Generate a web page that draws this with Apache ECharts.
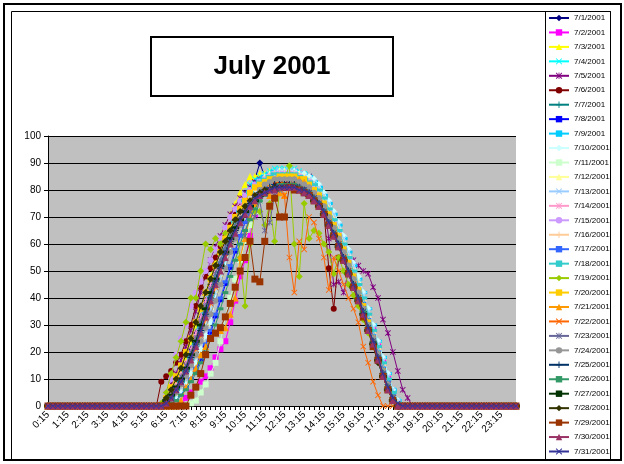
<!DOCTYPE html>
<html>
<head>
<meta charset="utf-8">
<script src="https://cdn.jsdelivr.net/npm/echarts@6/dist/echarts.min.js"></script>
<style>
  html, body { margin: 0; padding: 0; background: #fff; }
  #chart { width: 624px; height: 464px; }
</style>
</head>
<body>
<div id="chart"></div>
<script>
// Quarter-hour time stamps, 0:15 through midnight
const times = [
  '0:15','0:30','0:45','1:00','1:15','1:30','1:45','2:00','2:15','2:30','2:45','3:00',
  '3:15','3:30','3:45','4:00','4:15','4:30','4:45','5:00','5:15','5:30','5:45','6:00',
  '6:15','6:30','6:45','7:00','7:15','7:30','7:45','8:00','8:15','8:30','8:45','9:00',
  '9:15','9:30','9:45','10:00','10:15','10:30','10:45','11:00','11:15','11:30','11:45','12:00',
  '12:15','12:30','12:45','13:00','13:15','13:30','13:45','14:00','14:15','14:30','14:45','15:00',
  '15:15','15:30','15:45','16:00','16:15','16:30','16:45','17:00','17:15','17:30','17:45','18:00',
  '18:15','18:30','18:45','19:00','19:15','19:30','19:45','20:00','20:15','20:30','20:45','21:00',
  '21:15','21:30','21:45','22:00','22:15','22:30','22:45','23:00','23:15','23:30','23:45','0:00'
];

const dayNames = [
  '7/1/2001','7/2/2001','7/3/2001','7/4/2001','7/5/2001','7/6/2001','7/7/2001','7/8/2001',
  '7/9/2001','7/10/2001','7/11/2001','7/12/2001','7/13/2001','7/14/2001','7/15/2001','7/16/2001',
  '7/17/2001','7/18/2001','7/19/2001','7/20/2001','7/21/2001','7/22/2001','7/23/2001','7/24/2001',
  '7/25/2001','7/26/2001','7/27/2001','7/28/2001','7/29/2001','7/30/2001','7/31/2001'
];

// One reading per quarter hour for each day of the month
const d01 = [0,0,0,0,0,0,0,0,0,0, 0,0,0,0,0,0,0,0,0,0, 0,0,0,
  0,2,5,8,12,16,21,27,33,39, 45,51,57,62,67,71,75,78,81,84, 90,85,86,86,86,86,86,85,85,84,
  82,80,77,74,70,66,61,57,52,47, 42,37,32,27,21,15,9,4,1,0, 0,0,
  0,0,0,0,0,0,0,0,0,0, 0,0,0,0,0,0,0,0,0,0, 0];
const d02 = [0,0,0,0,0,0,0,0,0,0, 0,0,0,0,0,0,0,0,0,0, 0,0,0,
  0,0,0,0,0,3,5,7,9,11, 14,18,21,24,31,39,48,54,63,71, 78,82,84,86,86,87,87,87,86,85,
  84,82,79,76,72,68,64,59,54,49, 44,39,33,28,22,16,10,5,1,0, 0,0,
  0,0,0,0,0,0,0,0,0,0, 0,0,0,0,0,0,0,0,0,0, 0];
const d03 = [0,0,0,0,0,0,0,0,0,0, 0,0,0,0,0,0,0,0,0,0, 0,0,0,
  0,3,6,9,13,18,24,30,36,42, 48,54,60,66,71,75,79,82,85,85, 86,86,87,87,87,87,87,86,86,85,
  84,82,80,77,73,69,65,60,55,50, 45,40,34,28,22,16,10,5,1,0, 0,0,
  0,0,0,0,0,0,0,0,0,0, 0,0,0,0,0,0,0,0,0,0, 0];
const d04 = [0,0,0,0,0,0,0,0,0,0, 0,0,0,0,0,0,0,0,0,0, 0,0,0,
  0,1,4,7,10,14,19,24,30,36, 42,49,55,61,66,71,75,79,82,84, 85,86,87,88,88,88,88,88,87,86,
  85,83,81,78,75,71,67,62,57,52, 47,41,35,29,23,17,11,6,2,0, 0,0,
  0,0,0,0,0,0,0,0,0,0, 0,0,0,0,0,0,0,0,0,0, 0];
const d05 = [0,0,0,0,0,0,0,0,0,0, 0,0,0,0,0,0,0,0,0,0, 0,0,0,
  0,4,8,12,17,22,28,35,42,49, 54,59,63,67,71,74,77,79,81,83, 84,84,85,85,85,85,85,85,85,85,
  85,83,80,75,62,45,46,42,50,54, 52,50,49,44,40,32,27,20,13,6, 3,0,
  0,0,0,0,0,0,0,0,0,0, 0,0,0,0,0,0,0,0,0,0, 0];
const d06 = [0,0,0,0,0,0,0,0,0,0, 0,0,0,0,0,0,0,0,0,0, 0,0,0,
  9,11,13,16,19,24,30,37,44,48, 51,55,59,63,67,71,74,77,79,80, 81,82,82,83,83,83,83,82,82,81,
  79,78,76,72,51,36,55,56,53,48, 40,35,29,23,17,11,6,2,0,0, 0,0,
  0,0,0,0,0,0,0,0,0,0, 0,0,0,0,0,0,0,0,0,0, 0];
const d07 = [0,0,0,0,0,0,0,0,0,0, 0,0,0,0,0,0,0,0,0,0, 0,0,0,
  0,2,4,7,10,14,18,23,28,34, 40,46,52,57,62,67,71,74,77,79, 81,82,83,84,84,84,84,84,83,82,
  81,79,76,73,69,65,61,56,52,47, 42,37,31,26,20,14,8,4,1,0, 0,0,
  0,0,0,0,0,0,0,0,0,0, 0,0,0,0,0,0,0,0,0,0, 0];
const d08 = [0,0,0,0,0,0,0,0,0,0, 0,0,0,0,0,0,0,0,0,0, 0,0,0,
  0,0,1,3,5,7,10,13,17,22, 27,33,39,45,51,57,63,68,72,76, 79,81,83,84,85,85,85,85,84,83,
  82,80,77,74,70,66,62,57,52,47, 42,37,31,26,20,14,9,4,1,0, 0,0,
  0,0,0,0,0,0,0,0,0,0, 0,0,0,0,0,0,0,0,0,0, 0];
const d09 = [0,0,0,0,0,0,0,0,0,0, 0,0,0,0,0,0,0,0,0,0, 0,0,0,
  0,1,3,6,9,13,17,22,28,34, 40,46,52,58,63,68,72,76,79,82, 84,85,86,87,87,87,87,87,86,86,
  85,83,81,78,75,71,67,62,57,52, 47,42,36,30,24,18,12,6,2,0, 0,0,
  0,0,0,0,0,0,0,0,0,0, 0,0,0,0,0,0,0,0,0,0, 0];
const d10 = [0,0,0,0,0,0,0,0,0,0, 0,0,0,0,0,0,0,0,0,0, 0,0,0,
  0,0,1,3,5,8,12,16,21,26, 31,40,45,52,58,64,69,73,77,80, 82,84,85,86,87,87,87,87,86,86,
  85,84,82,79,76,72,68,63,58,53, 48,42,36,30,24,18,12,6,2,0, 0,0,
  0,0,0,0,0,0,0,0,0,0, 0,0,0,0,0,0,0,0,0,0, 0];
const d11 = [0,0,0,0,0,0,0,0,0,0, 0,0,0,0,0,0,0,0,0,0, 0,0,0,
  0,0,0,0,0,0,1,2,5,8, 12,16,24,33,40,47,54,61,67,72, 76,79,82,84,85,86,86,86,85,84,
  83,81,79,76,72,68,64,59,54,49, 44,38,32,26,20,14,8,3,0,0, 0,0,
  0,0,0,0,0,0,0,0,0,0, 0,0,0,0,0,0,0,0,0,0, 0];
const d12 = [0,0,0,0,0,0,0,0,0,0, 0,0,0,0,0,0,0,0,0,0, 0,0,0,
  0,1,3,5,8,11,15,20,25,31, 37,43,49,55,61,66,71,75,78,81, 83,85,86,86,87,87,87,86,86,85,
  84,82,80,77,74,70,66,61,56,51, 46,40,34,28,22,16,10,5,1,0, 0,0,
  0,0,0,0,0,0,0,0,0,0, 0,0,0,0,0,0,0,0,0,0, 0];
const d13 = [0,0,0,0,0,0,0,0,0,0, 0,0,0,0,0,0,0,0,0,0, 0,0,0,
  0,1,2,4,7,10,14,19,24,30, 36,42,48,54,60,65,70,74,78,81, 83,85,86,87,87,87,87,87,86,85,
  84,83,81,78,75,71,67,62,57,52, 46,41,35,29,23,17,11,6,2,0, 0,0,
  0,0,0,0,0,0,0,0,0,0, 0,0,0,0,0,0,0,0,0,0, 0];
const d14 = [0,0,0,0,0,0,0,0,0,0, 0,0,0,0,0,0,0,0,0,0, 0,0,0,
  0,2,5,8,12,16,21,27,33,39, 45,51,56,61,66,70,74,77,80,82, 83,84,85,86,86,86,86,86,85,84,
  83,81,79,76,72,68,64,59,54,49, 44,39,33,27,21,15,9,4,1,0, 0,0,
  0,0,0,0,0,0,0,0,0,0, 0,0,0,0,0,0,0,0,0,0, 0];
const d15 = [0,0,0,0,0,0,0,0,0,0, 0,0,0,0,0,0,0,0,0,0, 0,0,0,
  1,5,10,19,25,30,37,42,46,50, 54,58,62,66,70,73,76,78,80,82, 83,84,85,85,86,86,86,85,85,84,
  83,81,78,75,72,68,64,59,54,49, 44,38,32,26,20,14,8,3,0,0, 0,0,
  0,0,0,0,0,0,0,0,0,0, 0,0,0,0,0,0,0,0,0,0, 0];
const d16 = [0,0,0,0,0,0,0,0,0,0, 0,0,0,0,0,0,0,0,0,0, 0,0,0,
  0,1,3,5,8,12,16,21,26,32, 38,44,50,56,61,66,70,74,77,80, 82,84,85,86,86,86,86,86,85,84,
  83,82,80,77,73,69,65,60,55,50, 45,39,33,27,21,15,9,4,1,0, 0,0,
  0,0,0,0,0,0,0,0,0,0, 0,0,0,0,0,0,0,0,0,0, 0];
const d17 = [0,0,0,0,0,0,0,0,0,0, 0,0,0,0,0,0,0,0,0,0, 0,0,0,
  0,0,1,2,4,7,10,14,18,23, 28,34,40,46,52,58,63,68,72,76, 79,81,83,84,85,85,85,85,84,83,
  82,80,78,75,71,67,63,58,53,48, 43,38,32,26,20,14,9,4,1,0, 0,0,
  0,0,0,0,0,0,0,0,0,0, 0,0,0,0,0,0,0,0,0,0, 0];
const d18 = [0,0,0,0,0,0,0,0,0,0, 0,0,0,0,0,0,0,0,0,0, 0,0,0,
  0,1,3,6,9,13,18,23,29,35, 41,47,53,58,63,68,72,76,79,81, 83,84,85,86,86,86,86,86,85,84,
  83,82,80,77,73,69,65,60,55,50, 45,40,34,28,22,16,10,5,1,0, 0,0,
  0,0,0,0,0,0,0,0,0,0, 0,0,0,0,0,0,0,0,0,0, 0];
const d19 = [0,0,0,0,0,0,0,0,0,0, 0,0,0,0,0,0,0,0,0,0, 0,0,0,
  1,5,12,18,24,31,40,40,50,60, 58,62,60,64,60,66,55,37,60,72, 72,67,75,61,80,84,89,60,48,75,
  62,65,64,60,57,49,55,50,45,41, 37,32,27,22,17,12,7,3,0,0, 0,0,
  0,0,0,0,0,0,0,0,0,0, 0,0,0,0,0,0,0,0,0,0, 0];
const d20 = [0,0,0,0,0,0,0,0,0,0, 0,0,0,0,0,0,0,0,0,0, 0,0,0,
  0,3,7,11,15,20,25,31,36,42, 47,52,57,62,66,70,73,76,79,81, 82,83,84,84,85,85,85,85,84,84,
  82,80,78,75,71,67,63,58,53,48, 43,37,31,25,19,13,7,3,0,0, 0,0,
  0,0,0,0,0,0,0,0,0,0, 0,0,0,0,0,0,0,0,0,0, 0];
const d21 = [0,0,0,0,0,0,0,0,0,0, 0,0,0,0,0,0,0,0,0,0, 0,0,0,
  0,0,0,0,2,7,10,14,19,22, 25,27,28,29,34,40,55,62,70,75, 79,80,78,77,79,78,81,84,84,83,
  81,79,77,74,70,66,62,57,52,47, 42,36,30,25,19,13,8,3,0,0, 0,0,
  0,0,0,0,0,0,0,0,0,0, 0,0,0,0,0,0,0,0,0,0, 0];
const d22 = [0,0,0,0,0,0,0,0,0,0, 0,0,0,0,0,0,0,0,0,0, 0,0,0,
  0,1,3,5,8,12,16,21,26,32, 38,44,50,55,60,65,69,73,76,78, 80,81,82,80,82,78,55,42,61,58,
  70,68,62,55,43,55,50,45,40,36, 31,22,16,9,4,0,0,0,0,0, 0,0,
  0,0,0,0,0,0,0,0,0,0, 0,0,0,0,0,0,0,0,0,0, 0];
const d23 = [0,0,0,0,0,0,0,0,0,0, 0,0,0,0,0,0,0,0,0,0, 0,0,0,
  0,2,4,7,11,15,20,25,31,37, 43,49,54,59,63,67,70,63,72,70, 76,65,68,78,80,81,82,82,82,81,
  80,78,76,73,69,65,61,56,51,46, 41,36,30,25,19,13,8,3,0,0, 0,0,
  0,0,0,0,0,0,0,0,0,0, 0,0,0,0,0,0,0,0,0,0, 0];
const d24 = [0,0,0,0,0,0,0,0,0,0, 0,0,0,0,0,0,0,0,0,0, 0,0,0,
  0,1,3,5,8,11,15,19,24,29, 34,39,45,51,57,62,67,71,75,78, 80,82,83,84,84,84,84,84,83,82,
  81,79,77,74,70,66,62,57,52,47, 42,36,30,25,19,13,8,3,0,0, 0,0,
  0,0,0,0,0,0,0,0,0,0, 0,0,0,0,0,0,0,0,0,0, 0];
const d25 = [0,0,0,0,0,0,0,0,0,0, 0,0,0,0,0,0,0,0,0,0, 0,0,0,
  0,1,3,6,9,13,18,23,28,34, 40,46,51,56,61,65,69,72,75,77, 79,80,81,82,82,82,82,82,81,80,
  79,77,75,72,68,64,60,55,50,45, 40,35,29,24,18,12,7,3,0,0, 0,0,
  0,0,0,0,0,0,0,0,0,0, 0,0,0,0,0,0,0,0,0,0, 0];
const d26 = [0,0,0,0,0,0,0,0,0,0, 0,0,0,0,0,0,0,0,0,0, 0,0,0,
  0,0,1,2,4,6,9,12,16,20, 25,30,36,42,48,54,60,65,69,73, 76,78,80,81,82,82,82,82,81,80,
  79,77,75,72,68,64,60,55,50,45, 40,35,29,23,18,12,7,2,0,0, 0,0,
  0,0,0,0,0,0,0,0,0,0, 0,0,0,0,0,0,0,0,0,0, 0];
const d27 = [0,0,0,0,0,0,0,0,0,0, 0,0,0,0,0,0,0,0,0,0, 0,0,0,
  0,2,4,7,10,14,19,24,30,36, 42,47,52,57,62,66,69,72,74,76, 78,79,80,80,81,81,81,81,80,79,
  78,76,74,71,67,63,59,54,49,44, 39,34,28,23,17,11,6,2,0,0, 0,0,
  0,0,0,0,0,0,0,0,0,0, 0,0,0,0,0,0,0,0,0,0, 0];
const d28 = [0,0,0,0,0,0,0,0,0,0, 0,0,0,0,0,0,0,0,0,0, 0,0,0,
  0,3,6,10,14,19,25,31,37,42, 47,52,57,61,65,69,72,74,76,78, 79,80,80,81,81,81,81,81,80,79,
  78,76,74,71,67,63,59,54,49,44, 39,33,28,22,16,11,6,2,0,0, 0,0,
  0,0,0,0,0,0,0,0,0,0, 0,0,0,0,0,0,0,0,0,0, 0];
const d29 = [0,0,0,0,0,0,0,0,0,0, 0,0,0,0,0,0,0,0,0,0, 0,0,0,
  0,0,0,0,0,0,4,7,12,19, 25,27,29,33,38,44,50,55,61,47, 46,61,74,77,70,70,81,80,80,79,
  78,76,74,71,67,63,59,54,49,44, 39,33,28,22,17,11,6,2,0,0, 0,0,
  0,0,0,0,0,0,0,0,0,0, 0,0,0,0,0,0,0,0,0,0, 0];
const d30 = [0,0,0,0,0,0,0,0,0,0, 0,0,0,0,0,0,0,0,0,0, 0,0,0,
  0,1,3,6,9,13,17,22,27,33, 39,45,50,55,60,64,68,71,74,76, 78,79,80,80,81,81,81,81,80,79,
  78,76,74,71,67,63,59,54,49,44, 39,34,28,23,17,11,6,2,0,0, 0,0,
  0,0,0,0,0,0,0,0,0,0, 0,0,0,0,0,0,0,0,0,0, 0];
const d31 = [0,0,0,0,0,0,0,0,0,0, 0,0,0,0,0,0,0,0,0,0, 0,0,0,
  0,1,3,6,9,13,18,23,28,34, 40,46,52,57,61,65,69,72,75,77, 78,79,80,81,81,81,81,81,80,80,
  79,77,75,72,68,64,60,55,50,45, 40,35,29,24,18,12,7,3,1,0, 0,0,
  0,0,0,0,0,0,0,0,0,0, 0,0,0,0,0,0,0,0,0,0, 0];

const dayValues = [d01,d02,d03,d04,d05,d06,d07,d08,d09,d10,d11,d12,d13,d14,d15,d16,
                   d17,d18,d19,d20,d21,d22,d23,d24,d25,d26,d27,d28,d29,d30,d31];

// Marker shapes
const X_MARK = 'path://M1,0 L5,4 L9,0 L10,1 L6,5 L10,9 L9,10 L5,6 L1,10 L0,9 L4,5 L0,1 Z';
const STAR_MARK = 'path://M1,0 L5,4 L9,0 L10,1 L6,5 L10,9 L9,10 L5,6 L1,10 L0,9 L4,5 L0,1 Z M4.4,0 L5.6,0 L5.6,10 L4.4,10 Z';
const PLUS_MARK = 'path://M4.3,0 L5.7,0 L5.7,4.3 L10,4.3 L10,5.7 L5.7,5.7 L5.7,10 L4.3,10 L4.3,5.7 L0,5.7 L0,4.3 L4.3,4.3 Z';

const palette = [
  '#000080','#FF00FF','#FFFF00','#00FFFF','#800080','#800000','#008080','#0000FF',
  '#00CCFF','#CCFFFF','#CCFFCC','#FFFF99','#99CCFF','#FF99CC','#CC99FF','#FFCC99',
  '#3366FF','#33CCCC','#99CC00','#FFCC00','#FF9900','#FF6600','#666699','#969696',
  '#003366','#339966','#003300','#333300','#993300','#993366','#333399'
];
const markerCycle = [
  ['diamond', 7], ['rect', 6], ['triangle', 7], [X_MARK, 6], [STAR_MARK, 6],
  ['circle', 6], [PLUS_MARK, 7], ['rect', [6, 3]], ['rect', [8, 3]]
];

const series = dayNames.map((name, i) => {
  const m = markerCycle[i % markerCycle.length];
  return {
    name: name,
    type: 'line',
    data: dayValues[i],
    symbol: m[0],
    symbolSize: (i === 28) ? 7 : m[1],
    showAllSymbol: true,
    lineStyle: { width: 1, color: palette[i] },
    itemStyle: { color: palette[i] },
    emphasis: { disabled: true },
    animation: false,
    z: 2 + i * 0.01
  };
});

const chart = echarts.init(document.getElementById('chart'), null, { renderer: 'canvas' });
const FONT = 'Liberation Sans, Arial, sans-serif';

chart.setOption({
  animation: false,
  backgroundColor: '#ffffff',
  textStyle: { fontFamily: FONT },
  grid: {
    left: 48, top: 136, width: 468, height: 270,
    show: true, backgroundColor: '#c0c0c0', borderWidth: 0
  },
  xAxis: {
    type: 'category',
    data: times,
    boundaryGap: false,
    axisLine: { lineStyle: { color: '#000', width: 1 } },
    axisTick: { show: true, interval: 0, length: 4, lineStyle: { color: '#000' } },
    axisLabel: { interval: 3, rotate: 45, fontSize: 10, color: '#000', margin: 7, fontFamily: FONT },
    splitLine: { show: false }
  },
  yAxis: {
    type: 'value',
    min: 0, max: 100, interval: 10,
    axisLine: { show: true, lineStyle: { color: '#000', width: 1 } },
    axisTick: { show: true, length: 4, lineStyle: { color: '#000' } },
    axisLabel: { fontSize: 10, color: '#000', margin: 7, fontFamily: FONT },
    splitLine: { show: true, lineStyle: { color: '#000', width: 1 } }
  },
  legend: {
    data: dayNames,
    orient: 'vertical',
    left: 548, top: 14,
    padding: 0,
    itemWidth: 20, itemHeight: 8, itemGap: 6.45,
    textStyle: { fontSize: 8, color: '#000', lineHeight: 8, fontFamily: FONT },
    selectedMode: false
  },
  graphic: [
    { type: 'rect', shape: { x: 4, y: 4, width: 617, height: 456 },
      style: { fill: null, stroke: '#000', lineWidth: 2 }, z: 10 },
    { type: 'rect', shape: { x: 11.5, y: 11.5, width: 599, height: 449 },
      style: { fill: null, stroke: '#000', lineWidth: 1 }, z: 10 },
    { type: 'rect', shape: { x: 545.5, y: 11.5, width: 65, height: 449 },
      style: { fill: null, stroke: '#000', lineWidth: 1 }, z: 10 },
    { type: 'rect', shape: { x: 151, y: 37, width: 242, height: 59 },
      style: { fill: '#fff', stroke: '#000', lineWidth: 2 }, z: 10 },
    { type: 'text', x: 272, y: 67, z: 11,
      style: { text: 'July 2001', font: 'bold 26px ' + FONT, fill: '#000',
               textAlign: 'center', textVerticalAlign: 'middle' } }
  ],
  series: series
});
</script>
</body>
</html>
